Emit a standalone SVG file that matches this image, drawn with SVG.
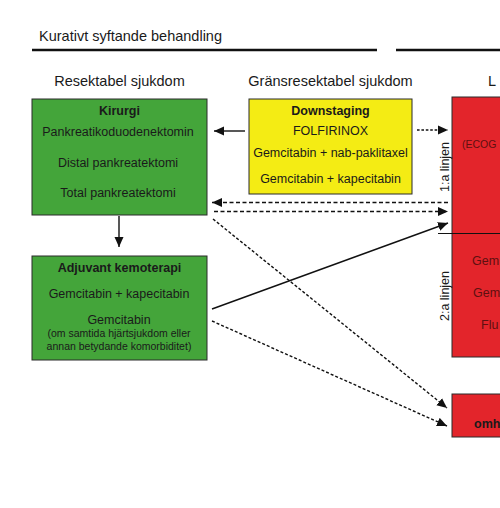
<svg xmlns="http://www.w3.org/2000/svg" width="500" height="508" viewBox="0 0 500 508">
<defs>
<style>
.t{font-family:"Liberation Sans",Arial,sans-serif;fill:#1a1a1a;}
.h{font-size:14.5px;}
.n{font-size:12.5px;text-anchor:middle;}
.b{font-weight:bold;}
.s{font-size:10.5px;text-anchor:middle;}
.r{fill:#5e1010;}
.green{fill:#44a53a;stroke:#2b2b2b;stroke-width:1;}
.yellow{fill:#f4ec14;stroke:#2b2b2b;stroke-width:1;}
.red{fill:#e3252b;stroke:#2b2b2b;stroke-width:1;}
.c{stroke:#111;stroke-width:1.4;fill:none;}
.d1{stroke-dasharray:4,2.5;}
.d2{stroke-dasharray:3,2;}
.d3{stroke-dasharray:2.6,1.8;}
</style>
<marker id="ah" markerUnits="userSpaceOnUse" markerWidth="10" markerHeight="10" refX="10" refY="5" orient="auto">
<path d="M0,0.5 L10,5 L0,9.5 z" fill="#111"/>
</marker>
</defs>

<g id="header">
<text class="t h" x="39" y="41">Kurativt syftande behandling</text>
<line x1="32" y1="50" x2="377" y2="50" stroke="#111" stroke-width="2.5"/>
<line x1="396" y1="50" x2="500" y2="50" stroke="#111" stroke-width="2.5"/>
<text class="t h" x="119.5" y="86" text-anchor="middle">Resektabel sjukdom</text>
<text class="t h" x="330.5" y="86" text-anchor="middle">Gränsresektabel sjukdom</text>
<text class="t h" x="488" y="86">L</text>
</g>

<g id="kirurgi">
<rect class="green" x="32" y="99" width="175" height="116"/>
<text class="t n b" x="119.5" y="115">Kirurgi</text>
<text class="t n" x="118" y="136">Pankreatikoduodenektomin</text>
<text class="t n" x="118" y="167">Distal pankreatektomi</text>
<text class="t n" x="118" y="197">Total pankreatektomi</text>
</g>

<g id="downstaging">
<rect class="yellow" x="249" y="99" width="163" height="95"/>
<text class="t n b" x="330.5" y="115">Downstaging</text>
<text class="t n" x="330.5" y="135">FOLFIRINOX</text>
<text class="t n" x="330.5" y="157">Gemcitabin + nab-paklitaxel</text>
<text class="t n" x="330.5" y="183">Gemcitabin + kapecitabin</text>
</g>

<g id="adjuvant">
<rect class="green" x="32" y="256" width="175" height="104"/>
<text class="t n b" x="119.5" y="272">Adjuvant kemoterapi</text>
<text class="t n" x="119" y="298">Gemcitabin + kapecitabin</text>
<text class="t n" x="119" y="324">Gemcitabin</text>
<text class="t s" x="119" y="337">(om samtida hjärtsjukdom eller</text>
<text class="t s" x="119" y="350">annan betydande komorbiditet)</text>
</g>

<g id="palliativ">
<rect class="red" x="452" y="97" width="60" height="260"/>
<line x1="438" y1="233.5" x2="500" y2="233.5" stroke="#111" stroke-width="1.2"/>
<text class="t r" x="462" y="148" font-size="10.5">(ECOG</text>
<text class="t r" x="472" y="265" font-size="12.5">Gem</text>
<text class="t r" x="473" y="297" font-size="12.5">Gem</text>
<text class="t r" x="481" y="329" font-size="12.5">Flu</text>
<text class="t" font-size="12.5" text-anchor="middle" transform="translate(449,167) rotate(-90)">1:a linjen</text>
<text class="t" font-size="12.5" text-anchor="middle" transform="translate(449,296) rotate(-90)">2:a linjen</text>
</g>

<g id="omh">
<rect class="red" x="452" y="394" width="60" height="43"/>
<text class="t b" x="474" y="428" font-size="12.5">omh</text>
</g>

<g id="connectors">
<line class="c" x1="245" y1="131" x2="214" y2="131" marker-end="url(#ah)"/>
<line class="c d3" x1="417" y1="130" x2="448" y2="130" marker-end="url(#ah)"/>
<line class="c d1" x1="448" y1="202.5" x2="212" y2="202.5" marker-end="url(#ah)"/>
<line class="c d1" x1="214" y1="211.5" x2="448" y2="211.5" marker-end="url(#ah)"/>
<line class="c" x1="119" y1="216" x2="119" y2="247" marker-end="url(#ah)"/>
<line class="c" x1="212" y1="309" x2="448" y2="223" marker-end="url(#ah)"/>
<line class="c d2" x1="213" y1="219" x2="447" y2="408" marker-end="url(#ah)"/>
<line class="c d2" x1="212" y1="321" x2="447" y2="426" marker-end="url(#ah)"/>
</g>
</svg>
